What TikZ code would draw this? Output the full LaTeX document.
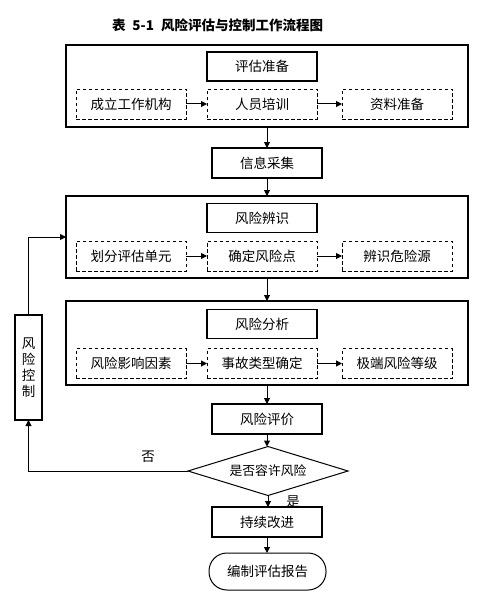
\documentclass[tikz,border=0pt]{standalone}
\usepackage{fontspec}
\setmainfont{Noto Sans CJK SC}
\newfontfamily\cjk{Noto Sans CJK SC}
\usetikzlibrary{arrows.meta,shapes.geometric}
\begin{document}
\begin{tikzpicture}[x=1pt,y=-1pt,
  every node/.style={inner sep=0pt,outer sep=0pt},
  txt/.style={font=\cjk\fontsize{13.5}{16}\selectfont},
  outerbox/.style={draw,line width=1.2pt,minimum width=402pt},
  solidbox/.style={draw,line width=1.2pt,minimum width=110pt,minimum height=29pt,txt},
  dashbox/.style={draw,line width=0.9pt,dash pattern=on 3.5pt off 2.5pt,minimum width=110pt,minimum height=30pt,txt},
  arr/.style={line width=1pt,-{Triangle[length=6pt,width=6pt]}}
]
\useasboundingbox (0,0) rectangle (486,607);
\fill[white] (0,0) rectangle (486,607);

\node[font=\cjk\bfseries\fontsize{13.5}{16}\selectfont,anchor=west] (title) at (112,25) {表\hspace{7pt}5-1\hspace{7pt}风险评估与控制工作流程图};

% group 1
\node[outerbox,minimum height=82pt] (g1) at (267,86) {};
\node[solidbox] (pg) at (262,66.5) {评估准备};
\node[dashbox] (a1) at (131,104) {成立工作机构};
\node[dashbox] (a2) at (262,104) {人员培训};
\node[dashbox] (a3) at (397,104) {资料准备};
\draw[arr] (a1) -- (a2);
\draw[arr] (a2) -- (a3);

\node[solidbox,minimum height=30pt] (info) at (267,163) {信息采集};

% group 2
\node[outerbox,minimum height=82pt] (g2) at (267,237) {};
\node[solidbox] (bs) at (262,218) {风险辨识};
\node[dashbox] (b1) at (131,256) {划分评估单元};
\node[dashbox] (b2) at (262,256) {确定风险点};
\node[dashbox] (b3) at (397,256) {辨识危险源};
\draw[arr] (b1) -- (b2);
\draw[arr] (b2) -- (b3);

% group 3
\node[outerbox,minimum height=84pt] (g3) at (267,343) {};
\node[solidbox] (fx) at (262,324) {风险分析};
\node[dashbox] (c1) at (131,363.5) {风险影响因素};
\node[dashbox] (c2) at (262,363.5) {事故类型确定};
\node[dashbox] (c3) at (397,363.5) {极端风险等级};
\draw[arr] (c1) -- (c2);
\draw[arr] (c2) -- (c3);

\node[solidbox,minimum height=30pt] (pj) at (267,419) {风险评价};
\node[draw,line width=1pt,diamond,aspect=3.27,minimum width=160pt,minimum height=49pt,
      font=\cjk\fontsize{12.8}{15}\selectfont] (dec) at (268,471) {\raisebox{-6pt}{是否容许风险}};
\node[solidbox,minimum height=30pt] (gj) at (267,522) {持续改进};
\node[draw,line width=1pt,rounded corners=18pt,minimum width=117pt,minimum height=37pt,txt] (bg) at (267.5,571.5) {编制评估报告};

\node[draw,line width=1.2pt,minimum width=27pt,minimum height=105pt,
      font=\cjk\fontsize{13.5}{16}\selectfont,align=center] (ctrl) at (28.5,367.5) {风\\险\\控\\制};

% main flow
\draw[arr] (g1.south -| info.north) -- (info.north);
\draw[arr] (info.south) -- (info.south |- g2.north);
\draw[arr] (g2.south) -- (g3.north);
\draw[arr] (g3.south) -- (g3.south |- pj.north);
\draw[arr] (pj.south) -- (pj.south |- dec.north);
\draw[arr] (dec.south) -- (dec.south |- gj.north);
\draw[arr] (gj.south) -- (gj.south |- bg.north);

% feedback
\draw[arr] (dec.west) -| (ctrl.south);
\draw[arr] (ctrl.north) |- (g2.west);

\node[txt] (no) at (148,457) {否};
\node[txt] (yes) at (293,502) {是};
\end{tikzpicture}
\end{document}
